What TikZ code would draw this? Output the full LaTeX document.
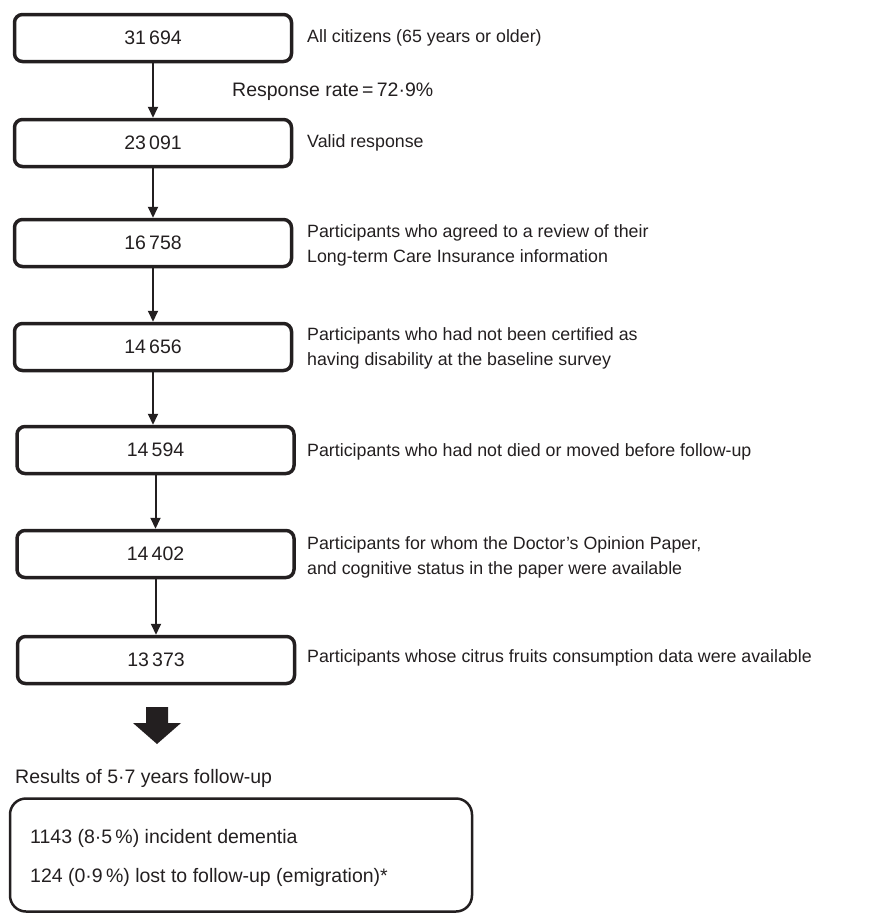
\documentclass[tikz,border=0pt]{standalone}
\usepackage{fontspec}
\setmainfont{Liberation Sans}
\usetikzlibrary{arrows.meta}
\definecolor{ink}{HTML}{231F20}
\newcommand{\txtfont}{\fontsize{17.8}{25}\selectfont}
\newcommand{\bigtxtfont}{\fontsize{19.5}{25}\selectfont}
\begin{document}
\begin{tikzpicture}[x=1pt,y=-1pt,
  numbox/.style={draw=ink, line width=3.5pt, rounded corners=8pt,
    minimum width=277pt, minimum height=47pt, inner sep=0pt,
    text=ink, font=\bigtxtfont},
  desc/.style={anchor=west, inner sep=0pt, align=left, text=ink, font=\txtfont},
  bigdesc/.style={desc, font=\bigtxtfont},
  flow/.style={draw=ink, line width=2pt, -{Triangle[length=11pt,width=10pt]}},
  resbox/.style={draw=ink, line width=2.5pt, rounded corners=16pt,
    minimum width=462pt, minimum height=113pt, inner sep=0pt}]
\useasboundingbox (0,0) rectangle (875,914);

\node[numbox] (b1) at (153,38)  {31\,694};
\node[numbox] (b2) at (153,143) {23\,091};
\node[numbox] (b3) at (153,243) {16\,758};
\node[numbox] (b4) at (153,347) {14\,656};
\node[numbox] (b5) at (155.5,450) {14\,594};
\node[numbox] (b6) at (155.5,554) {14\,402};
\node[numbox] (b7) at (156,660) {13\,373};

\node[desc] (t1) at (307,38)  {All citizens (65 years or older)};
\node[desc] (t2) at (307,143) {Valid response};
\node[desc] (t3) at (307,245) {Participants who agreed to a review of their\\Long-term Care Insurance information};
\node[desc] (t4) at (307,348) {Participants who had not been certified as\\having disability at the baseline survey};
\node[desc] (t5) at (307,452) {Participants who had not died or moved before follow-up};
\node[desc] (t6) at (307,557) {Participants for whom the Doctor’s Opinion Paper,\\and cognitive status in the paper were available};
\node[desc] (t7) at (307,658) {Participants whose citrus fruits consumption data were available};

\node[bigdesc] (rr) at (232,92) {Response rate\,=\,72·9\%};

\draw[flow] (b1.south) -- (b1.south |- b2.north);
\draw[flow] (b2.south) -- (b2.south |- b3.north);
\draw[flow] (b3.south) -- (b3.south |- b4.north);
\draw[flow] (b4.south) -- (b4.south |- b5.north);
\draw[flow] (b5.south) -- (b5.south |- b6.north);
\draw[flow] (b7.north |- b6.south) -- (b7.north);

\fill[ink] (146,707) -- (168,707) -- (168,723) -- (181,723) -- (157,744)
  -- (133,723) -- (146,723) -- cycle;

\node[bigdesc] (rt) at (15,778) {Results of 5·7 years follow-up};
\node[resbox] (res) at (241,855) {};
\node[bigdesc] (r1) at (30,838) {1143 (8·5\,\%) incident dementia};
\node[bigdesc] (r2) at (30,877) {124 (0·9\,\%) lost to follow-up (emigration)*};
\end{tikzpicture}
\end{document}
